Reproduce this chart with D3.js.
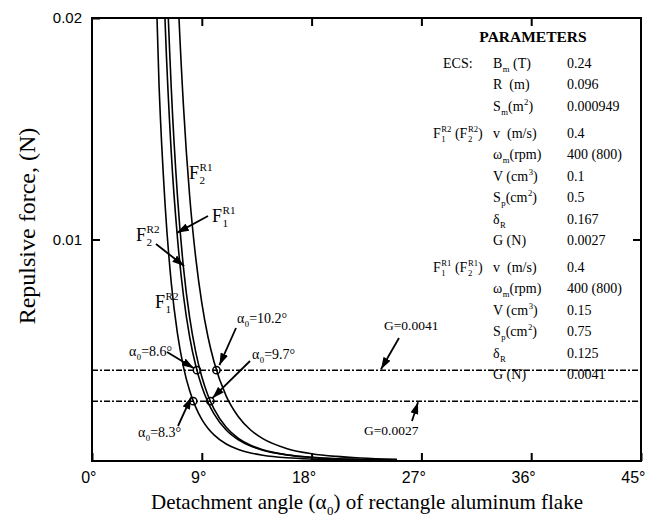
<!DOCTYPE html>
<html><head><meta charset="utf-8">
<script src="https://cdn.jsdelivr.net/npm/d3@7/dist/d3.min.js"></script>
<style>body{margin:0;background:#fff}</style>
</head><body>
<svg id="c" width="666" height="519" xmlns="http://www.w3.org/2000/svg"></svg>
<script>
// ---------- data ----------
const angles = [5, 5.5, 6, 6.5, 7, 7.5, 8, 8.5, 9, 9.5, 10, 11, 12, 13, 14, 16, 18, 20, 22, 25];
const f1R2 = [0.0259, 0.0169, 0.0115, 0.00803, 0.00577, 0.00424, 0.00318, 0.00243, 0.00188, 0.00148, 0.00118, 0.000769, 0.000522, 0.000365, 0.000262, 0.000145, 0.0000860, 0.0000535, 0.0000349, 0.0000197];
const f1R1 = [0.0436, 0.0288, 0.0197, 0.0139, 0.0101, 0.00745, 0.00562, 0.00431, 0.00336, 0.00266, 0.00213, 0.00140, 0.000959, 0.000677, 0.000490, 0.000274, 0.000164, 0.000103, 0.0000683, 0.0000391];
const f2R2 = [0.0554, 0.0359, 0.0241, 0.0168, 0.0120, 0.00872, 0.00650, 0.00493, 0.00380, 0.00297, 0.00235, 0.00152, 0.00102, 0.000710, 0.000507, 0.000275, 0.000161, 0.0000997, 0.0000645, 0.0000360];
const f2R1 = [0.0965, 0.0633, 0.0430, 0.0302, 0.0217, 0.0160, 0.0120, 0.00919, 0.00714, 0.00562, 0.00448, 0.00293, 0.00200, 0.00140, 0.00101, 0.000558, 0.000331, 0.000208, 0.000136, 0.0000773];
const gLevels = [0.0041, 0.0027];
const gLabels = ["G=0.0041", "G=0.0027"];
const detachAngles = [8.3, 9.7, 8.6, 10.2];
const detachForces = [0.0027, 0.0027, 0.0041, 0.0041];
const detachLabels = ["8.3", "9.7", "8.6", "10.2"];
const xTicks = [0, 9, 18, 27, 36, 45];
const yTicks = [0.01, 0.02];
const yTickLabels = ["0.01", "0.02"];

const ecsNames = ["B_{m} (T)", "R  (m)", "S_{m}(m^{2})"];
const ecsValues = ["0.24", "0.096", "0.000949"];
const flakeNames = ["v  (m/s)", "ω_{m}(rpm)", "V (cm^{3})", "S_{p}(cm^{2})", "δ_{R}", "G (N)"];
const r2Values = ["0.4", "400 (800)", "0.1", "0.5", "0.167", "0.0027"];
const r1Values = ["0.4", "400 (800)", "0.15", "0.75", "0.125", "0.0041"];

// ---------- setup ----------
const SERIF = "'Liberation Serif','Times New Roman',serif";
const SANS = "'Liberation Sans',Arial,sans-serif";
const svg = d3.select("#c");
const L = 92, R = 641, T = 18, B = 461;
const x = d3.scaleLinear().domain([0, 45]).range([L, R]);
const y = d3.scaleLinear().domain([0, 0.02]).range([B, T]);

svg.append("defs").append("clipPath").attr("id", "clip")
  .append("rect").attr("x", L).attr("y", T).attr("width", R - L).attr("height", B - T);
svg.select("defs").append("marker").attr("id", "ah")
  .attr("viewBox", "0 0 12 8").attr("refX", 12).attr("refY", 4)
  .attr("markerWidth", 12).attr("markerHeight", 8).attr("markerUnits", "userSpaceOnUse")
  .attr("orient", "auto")
  .append("path").attr("d", "M0,0 L12,4 L0,8 Z").attr("fill", "#000");

function parse(str) {
  const out = [];
  str.split(/(_\{[^}]*\}|\^\{[^}]*\})/).filter(s => s.length).forEach(p => {
    if (p.startsWith("_{")) out.push({ sub: p.slice(2, -1) });
    else if (p.startsWith("^{")) out.push({ sup: p.slice(2, -1) });
    else out.push(p);
  });
  return out;
}
function seq(g, x0, y0, size, tokens, anchor, extra) {
  const grp = g.append("g");
  let cx = 0;
  const small = size * 0.62;
  const put = (t, xx, yy, fs) => {
    const el = grp.append("text").attr("x", xx).attr("y", yy).attr("font-size", fs)
      .attr("font-family", SERIF).attr("fill", "#000").style("white-space", "pre").text(t);
    if (extra) extra(el);
    return el.node().getComputedTextLength();
  };
  tokens.forEach(tok => {
    if (typeof tok === "string") { cx += put(tok, cx, 0, size); }
    else {
      let w = 0;
      if (tok.sup !== undefined) w = Math.max(w, put(tok.sup, cx + 0.5, -size * 0.42, small));
      if (tok.sub !== undefined) w = Math.max(w, put(tok.sub, cx + 0.5, size * 0.3, small));
      cx += w + 0.5;
    }
  });
  let dx = 0;
  if (anchor === "middle") dx = -cx / 2;
  if (anchor === "end") dx = -cx;
  grp.attr("transform", `translate(${x0 + dx},${y0})`);
  return grp;
}

// ---------- axes ----------
const axStyle = g => {
  g.select(".domain").remove();
  g.selectAll(".tick line").attr("stroke", "#000").attr("stroke-width", 2);
};
svg.append("g").attr("transform", `translate(0,${B})`)
  .call(d3.axisBottom(x).tickValues(xTicks).tickSize(-8).tickPadding(11).tickFormat(d => d + "°"))
  .call(axStyle)
  .call(g => g.selectAll("text").attr("font-family", SANS).attr("font-size", 16)
    .attr("fill", "#000").attr("text-anchor", "end").attr("x", 4));
svg.append("g").attr("transform", `translate(0,${T})`)
  .call(d3.axisTop(x).tickValues(xTicks.slice(1, -1)).tickSize(-8).tickFormat(""))
  .call(axStyle);
svg.append("g").attr("transform", `translate(${L},0)`)
  .call(d3.axisLeft(y).tickValues(yTicks).tickSize(-8).tickPadding(10).tickFormat((d, i) => yTickLabels[i]))
  .call(axStyle)
  .call(g => g.selectAll("text").attr("font-family", SANS).attr("font-size", 15).attr("fill", "#000"));
svg.append("g").attr("transform", `translate(${R},0)`)
  .call(d3.axisRight(y).tickValues(yTicks.slice(0, 1)).tickSize(-8).tickFormat(""))
  .call(axStyle);

svg.append("rect").attr("x", L).attr("y", T).attr("width", R - L).attr("height", B - T)
  .attr("fill", "none").attr("stroke", "#000").attr("stroke-width", 2);

// ---------- G levels ----------
svg.selectAll(".glev").data(gLevels).enter().append("line")
  .attr("x1", x(0)).attr("x2", x(45)).attr("y1", d => y(d)).attr("y2", d => y(d))
  .attr("stroke", "#000").attr("stroke-width", 1.4).attr("stroke-dasharray", "6,2,2,2");

// ---------- curves ----------
const line = d3.line().x(d => x(d[0])).y(d => y(d[1])).curve(d3.curveMonotoneX);
const curves = [f1R2, f1R1, f2R2, f2R1];
svg.append("g").attr("clip-path", "url(#clip)").selectAll("path").data(curves).enter()
  .append("path").attr("d", s => line(angles.map((a, i) => [a, s[i]])))
  .attr("fill", "none").attr("stroke", "#000").attr("stroke-width", 1.6);

// ---------- detachment points ----------
svg.selectAll(".dp").data(detachAngles).enter().append("circle")
  .attr("cx", d => x(d)).attr("cy", (d, i) => y(detachForces[i])).attr("r", 3.6)
  .attr("fill", "none").attr("stroke", "#000").attr("stroke-width", 1.5);

// ---------- annotations ----------
const arrow = (x1, y1, x2, y2) => svg.append("line").attr("x1", x1).attr("y1", y1).attr("x2", x2).attr("y2", y2)
  .attr("stroke", "#000").attr("stroke-width", 1.8).attr("marker-end", "url(#ah)");

seq(svg, 189, 179, 18, ["F", { sub: "2", sup: "R1" }]);
seq(svg, 212, 222, 18, ["F", { sub: "1", sup: "R1" }]);
seq(svg, 136, 241, 18, ["F", { sub: "2", sup: "R2" }]);
seq(svg, 155, 308, 18, ["F", { sub: "1", sup: "R2" }]);
arrow(208, 216, x(6.96), y(0.0103));
arrow(156, 244, x(7.55), y(0.0088));

const dpos = [[138, 437], [252, 359], [129, 356], [237, 323]];
const dtail = [[178, 426], [250, 361], [167, 352], [236, 328]];
const dtipOff = [[-2, -4], [2, -3], [-3, -2], [3, -5]];
detachLabels.forEach((lab, i) => {
  seq(svg, dpos[i][0], dpos[i][1], 14, ["α", { sub: "0" }, "=" + lab + "°"]);
  arrow(dtail[i][0], dtail[i][1], x(detachAngles[i]) + dtipOff[i][0], y(detachForces[i]) + dtipOff[i][1]);
});

seq(svg, 384, 330, 13.5, [gLabels[0]]);
arrow(399, 338, 381, y(gLevels[0]) - 1);
seq(svg, 364, 435, 13.5, [gLabels[1]]);
arrow(412, 421, 418, y(gLevels[1]) + 1);

// ---------- parameter table ----------
seq(svg, 533, 42, 15.5, ["PARAMETERS"], "middle", el => el.attr("font-weight", "bold"));
const step = 21.5, nameX = 493, valX = 567;
const block = (y0, names, vals) => {
  names.forEach((n, i) => {
    seq(svg, nameX, y0 + i * step + 4.5, 14, parse(n));
    seq(svg, valX, y0 + i * step + 4.5, 14, [vals[i]]);
  });
};
seq(svg, 443, 67.5, 14, ["ECS:"]);
block(63, ecsNames, ecsValues);
seq(svg, 433, 137.5, 14, ["F", { sub: "1", sup: "R2" }, " (F", { sub: "2", sup: "R2" }, ")"]);
block(133, flakeNames, r2Values);
seq(svg, 433, 271.5, 14, ["F", { sub: "1", sup: "R1" }, " (F", { sub: "2", sup: "R1" }, ")"]);
block(267, flakeNames, r1Values);

// ---------- axis titles ----------
seq(svg, 367, 509, 21, ["Detachment angle (α", { sub: "0" }, ") of rectangle aluminum flake"], "middle");
const yt = svg.append("g").attr("transform", "translate(35,226) rotate(-90)");
seq(yt, 0, 0, 24, ["Repulsive force, (N)"], "middle");
</script>
</body></html>
